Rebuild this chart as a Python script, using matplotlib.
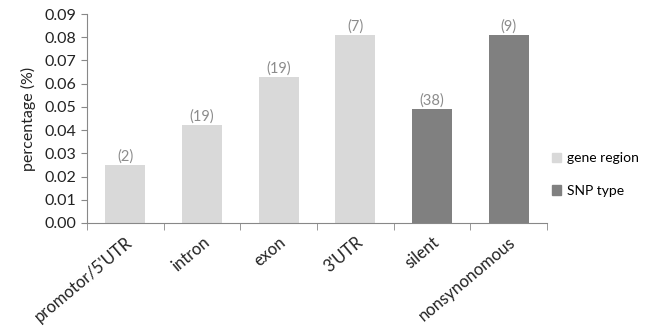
import matplotlib
matplotlib.use("Agg")
import matplotlib.pyplot as plt
from matplotlib.patches import Patch

categories = ["promotor/5'UTR", "intron", "exon", "3'UTR", "silent", "nonsynonomous"]
values = [0.025, 0.042, 0.063, 0.081, 0.049, 0.081]
counts = ["(2)", "(19)", "(19)", "(7)", "(38)", "(9)"]
groups = ["gene region", "gene region", "gene region", "gene region", "SNP type", "SNP type"]
group_colors = {"gene region": "#d9d9d9", "SNP type": "#808080"}
yticks = [0.00, 0.01, 0.02, 0.03, 0.04, 0.05, 0.06, 0.07, 0.08, 0.09]

plt.rcParams['font.family'] = ['Lato', 'DejaVu Sans']

fig = plt.figure(figsize=(6.47, 3.31), dpi=100)
ax = fig.add_axes([87/647, 1-223/331, 460/647, 209/331])

x = list(range(len(categories)))
colors = [group_colors[g] for g in groups]
ax.bar(x, values, width=0.52, color=colors)
for xi, v, c in zip(x, values, counts):
    ax.text(xi, v + 0.0006, c, ha='center', va='bottom', fontsize=10.5, color='#8c8c8c')

ax.set_xlim(-0.5, len(categories) - 0.5)
ax.set_ylim(0, 0.09)
ax.set_yticks(yticks)
ax.set_yticklabels([f"{t:.2f}" for t in yticks], fontsize=11.5, color='#222222')
ax.set_ylabel("percentage (%)", fontsize=11.5, color='#222222', labelpad=6)

# category labels without tick marks; tick marks between categories
ax.set_xticks(x)
ax.set_xticklabels(categories, rotation=40, ha='right', rotation_mode='anchor', fontsize=12, color='#222222')
ax.tick_params(axis='x', length=0, pad=8)
ax.set_xticks([i - 0.5 for i in range(len(categories) + 1)], minor=True)
ax.tick_params(axis='x', which='minor', length=5, color='#888888', direction='out')
ax.tick_params(axis='y', length=4, color='#888888', direction='out')

for s in ['top', 'right']:
    ax.spines[s].set_visible(False)
for s in ['left', 'bottom']:
    ax.spines[s].set_color('#888888')

handles = [Patch(color=group_colors[g]) for g in ["gene region", "SNP type"]]
fig.legend(handles, ["gene region", "SNP type"], loc='center left',
           bbox_to_anchor=(552/647, 1-174.5/331), frameon=False, fontsize=10,
           borderpad=0, borderaxespad=0,
           handlelength=0.65, handleheight=0.65, handletextpad=0.45, labelspacing=1.5)

fig.savefig("out.png", dpi=100)
